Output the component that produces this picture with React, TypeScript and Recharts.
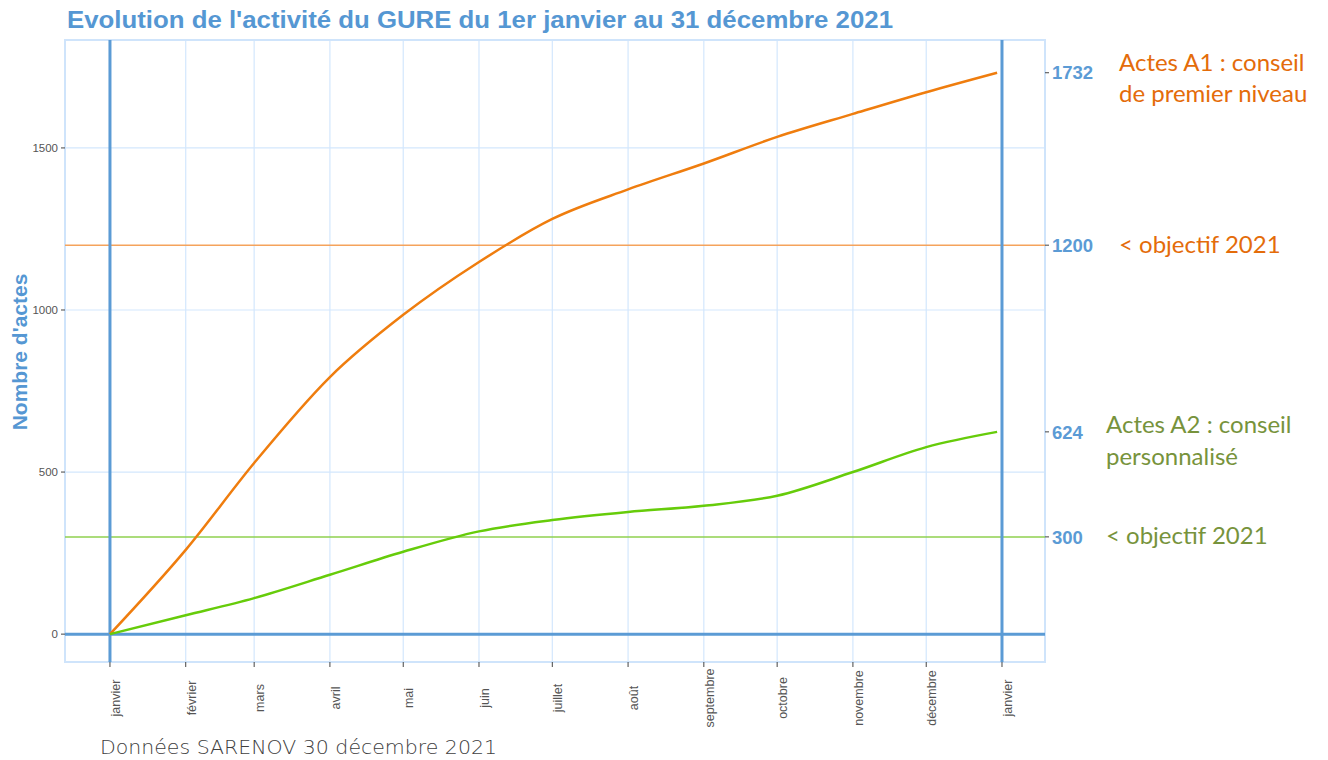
import React from "react";
import {
  LineChart,
  Line,
  XAxis,
  YAxis,
  CartesianGrid,
  ReferenceLine,
  ReferenceArea,
} from "recharts";

// jour de l'année (0 = 1er janvier 2021)
const dayOfYear = [0, 31, 59, 90, 120, 151, 181, 212, 243, 273, 304, 334, 363];
const actesA1 = [0, 260, 528, 793, 985, 1148, 1281, 1372, 1452, 1534, 1605, 1672, 1732];
const actesA2 = [0, 58, 111, 183, 254, 317, 352, 377, 396, 427, 500, 577, 624];

const monthTicks = [0, 31, 59, 90, 120, 151, 181, 212, 243, 273, 304, 334, 365];
const monthLabels = [
  "janvier", "février", "mars", "avril", "mai", "juin", "juillet",
  "août", "septembre", "octobre", "novembre", "décembre", "janvier",
];
const leftTicks = [0, 500, 1000, 1500];
const rightTicks = [300, 624, 1200, 1732];
const objectifA1 = 1200;
const objectifA2 = 300;

const data = dayOfYear.map((d, i) => ({ day: d, a1: actesA1[i], a2: actesA2[i] }));

const xDomain: [number, number] = [-18.4, 382.6];
const yDomain: [number, number] = [-86, 1833];

const blue = "#5b9bd5";
const grid = "#d3e7fd";
const axisFont = "'Liberation Sans', Arial, sans-serif";

const MonthTick = (props: any) => {
  const { x, payload } = props;
  const label = monthLabels[monthTicks.indexOf(payload.value)];
  return (
    <g transform={`translate(${x},698) rotate(-90)`}>
      <text x={0} y={10} textAnchor="middle" fontSize={12.5} fill="#555" fontFamily={axisFont}>
        {label}
      </text>
    </g>
  );
};

const LeftTick = (props: any) => {
  const { x, y, payload } = props;
  return (
    <text x={x} y={y} dy="0.35em" textAnchor="end" fontSize={11.5} fill="#555" fontFamily={axisFont}>
      {payload.value}
    </text>
  );
};

const RightTick = (props: any) => {
  const { x, y, payload } = props;
  return (
    <text x={x} y={y} dy="0.36em" textAnchor="start" fontSize={18.5} fontWeight="bold" fill={blue} fontFamily={axisFont}>
      {payload.value}
    </text>
  );
};

export default function App() {
  const annFont = "Lato, 'Open Sans', sans-serif";
  return (
    <div style={{ position: "absolute", left: 0, top: 0, width: 1328, height: 760, background: "#fff" }}>
      <LineChart width={1328} height={760} data={data} margin={{ top: 40, right: 223, bottom: 18, left: 10 }}>
        <CartesianGrid stroke={grid} strokeWidth={1.2} yAxisId="left" />
        <XAxis
          dataKey="day"
          type="number"
          domain={xDomain}
          ticks={monthTicks}
          interval={0}
          allowDataOverflow
          axisLine={false}
          tickLine={{ stroke: "#444" }}
          tickSize={5}
          height={80}
          tick={<MonthTick />}
        />
        <YAxis
          yAxisId="left"
          type="number"
          domain={yDomain}
          ticks={leftTicks}
          allowDataOverflow
          axisLine={false}
          tickLine={{ stroke: "#444" }}
          tickSize={4}
          tickMargin={3}
          width={55}
          tick={<LeftTick />}
        />
        <YAxis
          yAxisId="right"
          orientation="right"
          type="number"
          domain={yDomain}
          ticks={rightTicks}
          allowDataOverflow
          axisLine={false}
          tickLine={{ stroke: "#444" }}
          tickSize={4}
          tickMargin={3}
          width={60}
          tick={<RightTick />}
        />
        <ReferenceArea
          yAxisId="left"
          x1={xDomain[0]}
          x2={xDomain[1]}
          y1={yDomain[0]}
          y2={yDomain[1]}
          fill="none"
          stroke="#cfe4fb"
          strokeWidth={2}
        />
        <ReferenceLine yAxisId="left" y={objectifA1} stroke="#f5a35c" strokeWidth={1.5} />
        <ReferenceLine yAxisId="left" y={objectifA2} stroke="#8fd14f" strokeWidth={1.5} />
        <ReferenceLine yAxisId="left" y={0} stroke={blue} strokeWidth={3} />
        <ReferenceLine yAxisId="left" x={0} stroke={blue} strokeWidth={3} />
        <ReferenceLine yAxisId="left" x={365} stroke={blue} strokeWidth={3} />
        <Line
          yAxisId="left"
          type="monotone"
          dataKey="a1"
          stroke="#ef7d0e"
          strokeWidth={2.5}
          dot={false}
          isAnimationActive={false}
        />
        <Line
          yAxisId="left"
          type="monotone"
          dataKey="a2"
          stroke="#66cc0a"
          strokeWidth={2.5}
          dot={false}
          isAnimationActive={false}
        />
      </LineChart>
      <svg
        width={1328}
        height={760}
        style={{ position: "absolute", left: 0, top: 0, pointerEvents: "none" }}
      >
        <text
          x={67}
          y={28}
          fontSize={24}
          fontWeight="bold"
          fill="#5597d3"
          fontFamily={axisFont}
          textLength={826}
          lengthAdjust="spacingAndGlyphs"
        >
          Evolution de l'activité du GURE du 1er janvier au 31 décembre 2021
        </text>
        <text
          transform="translate(27,352) rotate(-90)"
          textAnchor="middle"
          fontSize={21}
          fontWeight="bold"
          fill="#5597d3"
          fontFamily={axisFont}
        >
          Nombre d'actes
        </text>
        <g fontFamily={annFont} fontSize={24} fill="#e46c0a">
          <text x={1119} y={71}>Actes A1 : conseil</text>
          <text x={1119} y={102}>de premier niveau</text>
          <text x={1119} y={253}>{"< objectif 2021"}</text>
        </g>
        <g fontFamily={annFont} fontSize={24} fill="#77933c">
          <text x={1106} y={433}>Actes A2 : conseil</text>
          <text x={1106} y={465}>personnalisé</text>
          <text x={1106} y={544}>{"< objectif 2021"}</text>
        </g>
        <text
          x={100}
          y={754}
          fontSize={20}
          fontWeight={300}
          fill="#404040"
          fontFamily="'DejaVu Sans', sans-serif"
          textLength={397}
          lengthAdjust="spacingAndGlyphs"
        >
          Données SARENOV 30 décembre 2021
        </text>
      </svg>
    </div>
  );
}
